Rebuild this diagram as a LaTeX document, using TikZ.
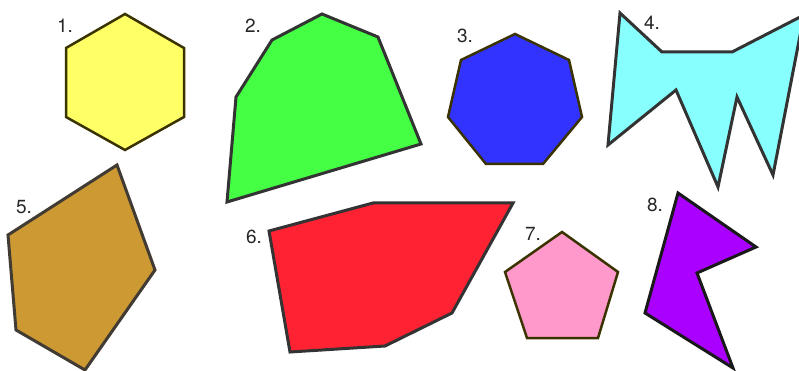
\documentclass[tikz,border=0pt]{standalone}
\usepackage{fontspec}
\setmainfont{TeX Gyre Heros}
\definecolor{cyel}{HTML}{FFFF66}
\definecolor{cgrn}{HTML}{44FF44}
\definecolor{cblu}{HTML}{3333FF}
\definecolor{ccya}{HTML}{88FFFF}
\definecolor{cbrn}{HTML}{CC9933}
\definecolor{cred}{HTML}{FF2233}
\definecolor{cpnk}{HTML}{FF99CC}
\definecolor{cpur}{HTML}{AA00FF}
\definecolor{edgegray}{HTML}{333333}
\definecolor{edgeolive}{HTML}{3A3300}
\begin{document}
\begin{tikzpicture}[x=1pt,y=-1pt,
  poly/.style={draw=edgegray,line width=3pt,line join=miter},
  regpoly/.style={draw=edgeolive,line width=2.5pt,line join=miter},
  lbl/.style={inner sep=0pt,text=black!85,font=\fontsize{19}{19}\selectfont}]
\useasboundingbox (0,0) rectangle (799,371);
% 1 hexagon
\filldraw[regpoly,fill=cyel] (125,14) -- (184,48) -- (184,117) -- (125,150) -- (66,117) -- (66,48) -- cycle;
\node[lbl] (l1) at (65,26) {1.};
% 2
\filldraw[poly,fill=cgrn] (322,14) -- (378,37) -- (421,144) -- (227,202) -- (236,97) -- (272,40) -- cycle;
\node[lbl] (l2) at (253,26) {2.};
% 3 heptagon
\filldraw[regpoly,fill=cblu] (515,34) -- (569,60) -- (582,117) -- (543,164) -- (486,164) -- (448,117) -- (461,60) -- cycle;
\node[lbl] (l3) at (465,36) {3.};
% 4
\filldraw[poly,fill=ccya] (620,13) -- (662,52) -- (732,52) -- (804,15) -- (773,175) -- (737,97) -- (718,187) -- (676,90) -- (608,145) -- cycle;
\node[lbl] (l4) at (652,23) {4.};
% 5
\filldraw[poly,draw=edgegray!90!brown,fill=cbrn] (117,165) -- (155,270) -- (85,370) -- (16,330) -- (8,235) -- cycle;
\node[lbl] (l5) at (24,207) {5.};
% 6
\filldraw[poly,fill=cred] (269,231) -- (373,203) -- (513,203) -- (452,313) -- (385,346) -- (290,352) -- cycle;
\node[lbl] (l6) at (254,237) {6.};
% 7 pentagon
\filldraw[regpoly,fill=cpnk] (562,232) -- (618,272) -- (598,338) -- (527,338) -- (505,272) -- cycle;
\node[lbl] (l7) at (533,234) {7.};
% 8
\filldraw[poly,draw=black!90,fill=cpur] (678,193) -- (756,247) -- (697,273) -- (733,368) -- (645,313) -- cycle;
\node[lbl] (l8) at (655,205) {8.};
\end{tikzpicture}
\end{document}
